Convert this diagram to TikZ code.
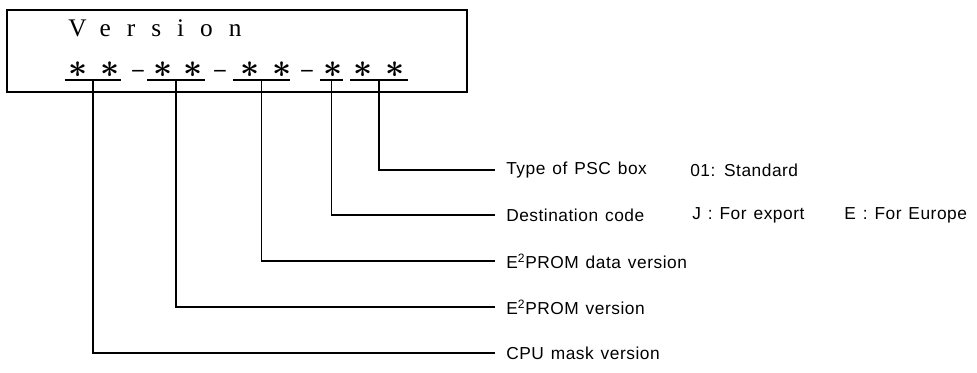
\documentclass[tikz,border=0pt]{standalone}
\usepackage{fontspec}
\setmainfont{Liberation Sans}[LetterSpace=3,WordSpace=1.3]
\newfontfamily\dispfont[LetterSpace=63]{Liberation Serif}
\usetikzlibrary{calc}
\tikzset{
  dispbox/.style={draw,line width=1pt},
  vtext/.style={inner sep=0pt,font=\dispfont\fontsize{19}{19}\selectfont},
  astnode/.style={inner sep=0pt,font=\fontsize{23}{23}\selectfont\boldmath},
  dashnode/.style={inner sep=0pt,font=\dispfont\fontsize{17}{17}\selectfont\bfseries},
  uline/.style={line width=1.2pt},
  leader/.style={line width=0.8pt},
  lbl/.style={anchor=west,inner sep=0pt,font=\fontsize{13}{15}\selectfont}
}
\begin{document}
\begin{tikzpicture}[x=0.75pt,y=-0.75pt]
\useasboundingbox (0,0) rectangle (977,373);
% display window
\draw[dispbox] (7,10) rectangle (467,92);
\node[vtext,anchor=base west] (ver) at (68,37) {Version};
% version fields
\foreach \n/\x in {1/78,2/110,3/163,4/193,5/250,6/282,7/333,8/363,9/395}
  \node[astnode] (a\n) at (\x,70) {$\ast$};
\foreach \n/\x in {1/138,2/220,3/307}
  \node[dashnode] (h\n) at (\x,73) {\textendash};
\foreach \n/\l/\r in {1/65/121,2/147/205,3/233/290,4/320/343,5/350/408}{
  \coordinate (ul\n) at (\l,80);
  \coordinate (ur\n) at (\r,80);
  \coordinate (m\n) at ($(ul\n)!0.5!(ur\n)$);
  \draw[uline] (ul\n) -- (ur\n);
}
% labels
\node[lbl] (psc) at (506,170) {Type of PSC box};
\node[lbl] (std) at (690,170) {01: Standard};
\node[lbl] (dest) at (506,215) {Destination code};
\node[lbl] (exp) at (692,215) {J : For export};
\node[lbl] (eur) at (844,215) {E : For Europe};
\node[lbl] (edat) at (506,261) {E\textsuperscript{2}PROM data version};
\node[lbl] (erom) at (506,307) {E\textsuperscript{2}PROM version};
\node[lbl] (cpu) at (506,353) {CPU mask version};
% leaders
\draw[leader] (m5) |- ([xshift=-8pt]psc.west);
\draw[leader] (m4) |- ([xshift=-8pt]dest.west);
\draw[leader] (m3) |- ([xshift=-8pt]edat.west);
\draw[leader] (m2) |- ([xshift=-8pt]erom.west);
\draw[leader] (m1) |- ([xshift=-8pt]cpu.west);
\end{tikzpicture}
\end{document}
